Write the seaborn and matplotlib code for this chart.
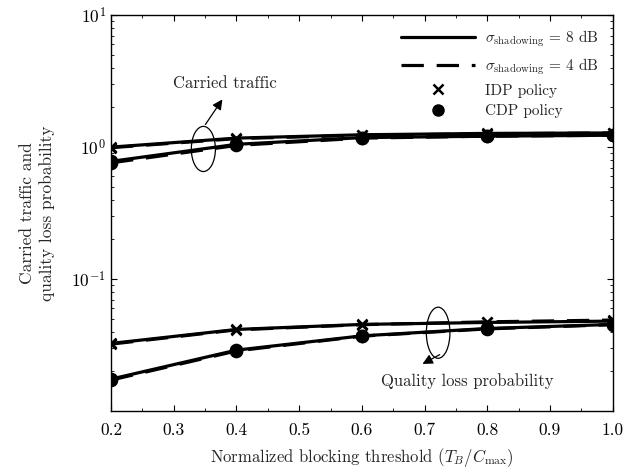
import numpy as np
import pandas as pd
import matplotlib
matplotlib.use("Agg")
import matplotlib.pyplot as plt
import seaborn as sns
from matplotlib.lines import Line2D
from matplotlib.patches import Ellipse
from matplotlib.ticker import LogLocator, MultipleLocator

# values
threshold = [0.2, 0.4, 0.6, 0.8, 1.0]

carried_idp_8db = [1.00, 1.17, 1.24, 1.27, 1.28]
carried_idp_4db = [0.99, 1.16, 1.23, 1.26, 1.28]
carried_cdp_8db = [0.78, 1.05, 1.18, 1.21, 1.23]
carried_cdp_4db = [0.76, 1.03, 1.17, 1.21, 1.23]

qloss_idp_8db = [0.0326, 0.0416, 0.0454, 0.0470, 0.0481]
qloss_idp_4db = [0.0322, 0.0413, 0.0452, 0.0475, 0.0490]
qloss_cdp_8db = [0.0175, 0.0290, 0.0372, 0.0423, 0.0454]
qloss_cdp_4db = [0.0172, 0.0286, 0.0370, 0.0420, 0.0452]

x_ticks = [0.2, 0.3, 0.4, 0.5, 0.6, 0.7, 0.8, 0.9, 1.0]


def main():
    sns.set_style("ticks")
    plt.rcParams["font.family"] = ["cmr10", "DejaVu Serif"]
    plt.rcParams["mathtext.fontset"] = "cm"
    plt.rcParams["axes.formatter.use_mathtext"] = True

    series = {
        ("IDP", "8"): carried_idp_8db,
        ("IDP", "4"): carried_idp_4db,
        ("CDP", "8"): carried_cdp_8db,
        ("CDP", "4"): carried_cdp_4db,
        ("IDP", "8q"): qloss_idp_8db,
        ("IDP", "4q"): qloss_idp_4db,
        ("CDP", "8q"): qloss_cdp_8db,
        ("CDP", "4q"): qloss_cdp_4db,
    }

    fig = plt.figure(figsize=(6.31, 4.71), dpi=100)
    ax = fig.add_axes([0.176, 0.127, 0.795, 0.841])

    for (policy, sigma), vals in series.items():
        df = pd.DataFrame({"x": threshold, "y": vals})
        dashed = sigma.startswith("4")
        sns.lineplot(data=df, x="x", y="y", ax=ax, color="black",
                     linewidth=2.3, linestyle=(0, (7, 4)) if dashed else "-",
                     marker="x" if policy == "IDP" else "o",
                     markersize=7 if policy == "IDP" else 8,
                     markeredgewidth=1.8, markeredgecolor="black",
                     markerfacecolor="black")

    ax.set_yscale("log")
    ax.set_ylim(0.01, 10)
    ax.set_xlim(0.2, 1.0)
    ax.set_xticks(x_ticks)
    ax.set_xticklabels([f"{t:.1f}" for t in x_ticks])
    ax.xaxis.set_minor_locator(MultipleLocator(0.05))
    ax.set_yticks([0.1, 1, 10])
    ax.set_yticklabels([r"$10^{-1}$", r"$10^{0}$", r"$10^{1}$"])
    ax.yaxis.set_minor_locator(LogLocator(base=10, subs=np.arange(2, 10), numticks=10))
    ax.tick_params(which="both", direction="in", top=True, right=True,
                   labelsize=12.5, colors="black")
    ax.tick_params(which="major", length=4)
    ax.tick_params(which="minor", length=2)
    ax.tick_params(axis="x", pad=8)
    for sp in ax.spines.values():
        sp.set_color("black")
        sp.set_linewidth(1.0)

    ax.set_xlabel(r"Normalized blocking threshold ($T_B/C_{\rm max}$)", fontsize=12, labelpad=6)
    ax.set_ylabel("Carried traffic and\nquality loss probability", fontsize=12.5,
                  labelpad=12, linespacing=1.3)

    handles = [
        Line2D([], [], color="black", linewidth=2.3, linestyle="-"),
        Line2D([], [], color="black", linewidth=2.3, linestyle=(0, (7, 4))),
        Line2D([], [], color="black", linestyle="none", marker="x", markersize=7, markeredgewidth=1.8),
        Line2D([], [], color="black", linestyle="none", marker="o", markersize=8),
    ]
    labels = [
        r"$\sigma_{\rm shadowing}$ = 8 dB",
        r"$\sigma_{\rm shadowing}$ = 4 dB",
        "IDP policy",
        "CDP policy",
    ]
    ax.legend(handles, labels, loc="upper right", frameon=False, fontsize=11,
              handlelength=4.8, labelspacing=0.45, borderaxespad=0.5,
              handletextpad=0.7)

    # carried traffic annotation
    ax.add_patch(Ellipse((0.184, 0.662), 0.048, 0.114, transform=ax.transAxes,
                         fill=False, edgecolor="black", linewidth=0.9))
    ax.annotate("", xy=(0.225, 0.793), xytext=(0.185, 0.718),
                xycoords="axes fraction", textcoords="axes fraction",
                arrowprops=dict(arrowstyle="-|>,head_length=0.6,head_width=0.3",
                                color="black", lw=0.9))
    ax.text(0.227, 0.828, "Carried traffic", transform=ax.transAxes,
            ha="center", va="center", fontsize=12)

    # quality loss annotation
    ax.add_patch(Ellipse((0.652, 0.198), 0.047, 0.129, transform=ax.transAxes,
                         fill=False, edgecolor="black", linewidth=0.9))
    ax.annotate("", xy=(0.616, 0.116), xytext=(0.66, 0.146),
                xycoords="axes fraction", textcoords="axes fraction",
                arrowprops=dict(arrowstyle="-|>,head_length=0.6,head_width=0.3",
                                color="black", lw=0.9))
    ax.text(0.711, 0.076, "Quality loss probability", transform=ax.transAxes,
            ha="center", va="center", fontsize=12)

    fig.savefig("out.png", dpi=100)
    plt.close(fig)


if __name__ == "__main__":
    main()
